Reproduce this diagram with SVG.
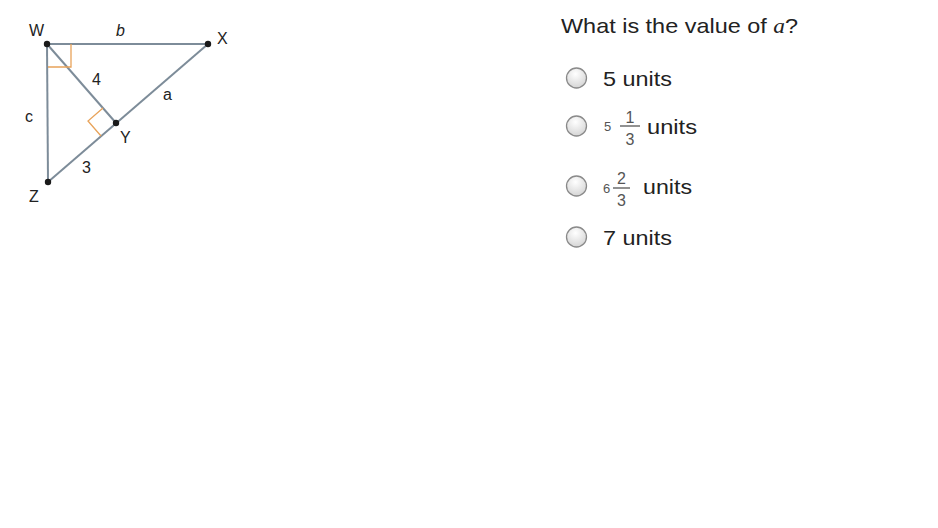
<svg xmlns="http://www.w3.org/2000/svg" width="938" height="528" viewBox="0 0 938 528">
<defs>
<radialGradient id="rg" cx="0.45" cy="0.3" r="0.8">
<stop offset="0" stop-color="#ffffff"/>
<stop offset="1" stop-color="#cfcfcf"/>
</radialGradient>
<style>
.seg{stroke:#7d8c99;stroke-width:2;fill:none}
.ra{stroke:#e8a35a;stroke-width:1.3;fill:none}
.dot{fill:#1a1a1a}
.lbl{font-family:"Liberation Sans",Arial,sans-serif;font-size:16px;fill:#222}
.q{font-family:"Liberation Sans",Arial,sans-serif;font-size:21px;fill:#222}
.sm{font-family:"Liberation Sans",Arial,sans-serif;font-size:13px;fill:#555}
.fr{font-family:"Liberation Sans",Arial,sans-serif;font-size:16px;fill:#555}
.radio{fill:url(#rg);stroke:#8a8a8a;stroke-width:1.3}
.bar{stroke:#555;stroke-width:1.3}
</style>
</defs>
<rect width="938" height="528" fill="#ffffff"/>
<g id="connectors">
<line class="seg" x1="47" y1="44" x2="208" y2="44"/>
<line class="seg" x1="47" y1="44" x2="48" y2="182"/>
<line class="seg" x1="48" y1="182" x2="208" y2="44"/>
<line class="seg" x1="47" y1="44" x2="116" y2="123"/>
<polyline class="ra" points="48,67 71,67 71,44"/>
<polyline class="ra" points="103,108 88,121 101,136"/>
</g>
<g id="W"><circle class="dot" cx="47" cy="44" r="3.2"/><text class="lbl" x="29" y="36">W</text></g>
<g id="X"><circle class="dot" cx="208" cy="44" r="3.2"/><text class="lbl" x="217" y="44">X</text></g>
<g id="Y"><circle class="dot" cx="116" cy="123" r="3.2"/><text class="lbl" x="120" y="143">Y</text></g>
<g id="Z"><circle class="dot" cx="48" cy="182" r="3.2"/><text class="lbl" x="29" y="202">Z</text></g>
<g id="labels">
<text class="lbl" x="116" y="36" font-style="italic" font-size="14">b</text>
<text class="lbl" x="92" y="85" font-size="14">4</text>
<text class="lbl" x="163" y="100" font-size="14">a</text>
<text class="lbl" x="25" y="122" font-size="14">c</text>
<text class="lbl" x="82" y="173" font-size="14">3</text>
</g>
<g id="question">
<text class="q" x="561" y="33" textLength="237" lengthAdjust="spacingAndGlyphs">What is the value of <tspan font-family="'Liberation Serif','Times New Roman',serif" font-style="italic">a</tspan>?</text>
</g>
<g id="opt1">
<circle class="radio" cx="576.5" cy="78" r="10"/>
<text class="q" x="603" y="86" textLength="69" lengthAdjust="spacingAndGlyphs">5 units</text>
</g>
<g id="opt2">
<circle class="radio" cx="576.5" cy="126" r="10"/>
<text class="sm" x="604" y="131">5</text>
<text class="fr" x="630" y="123" text-anchor="middle">1</text>
<line class="bar" x1="620" y1="126" x2="640" y2="126"/>
<text class="fr" x="630" y="145" text-anchor="middle">3</text>
<text class="q" x="647" y="134" textLength="50" lengthAdjust="spacingAndGlyphs">units</text>
</g>
<g id="opt3">
<circle class="radio" cx="576.5" cy="186" r="10"/>
<text class="sm" x="603" y="193" font-size="14">6</text>
<text class="fr" x="621.5" y="184" text-anchor="middle">2</text>
<line class="bar" x1="613" y1="188" x2="630" y2="188"/>
<text class="fr" x="621.5" y="206" text-anchor="middle">3</text>
<text class="q" x="643" y="194" textLength="49" lengthAdjust="spacingAndGlyphs">units</text>
</g>
<g id="opt4">
<circle class="radio" cx="576.5" cy="237" r="10"/>
<text class="q" x="603" y="245" textLength="69" lengthAdjust="spacingAndGlyphs">7 units</text>
</g>
</svg>
